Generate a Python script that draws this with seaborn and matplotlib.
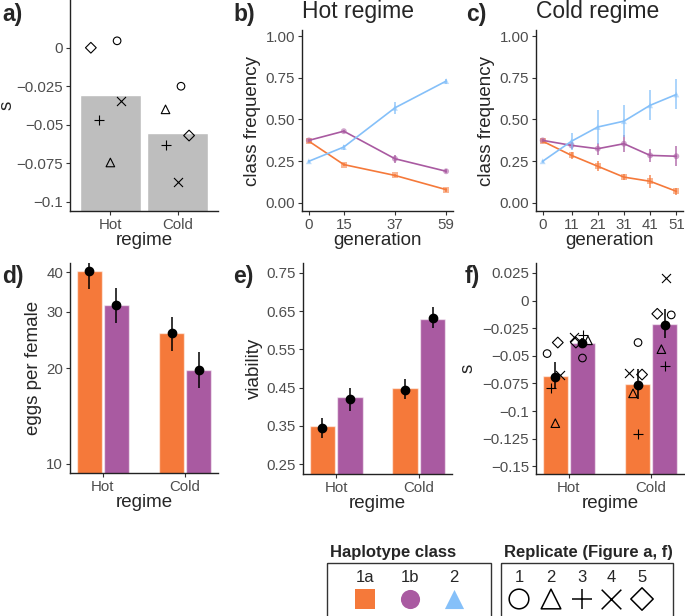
import numpy as np
import pandas as pd
import matplotlib
matplotlib.use('Agg')
import matplotlib.pyplot as plt
import seaborn as sns
from matplotlib.patches import Rectangle
from matplotlib.ticker import FixedLocator, NullLocator

# categories
regimes = ['Hot', 'Cold']
classes = ['1a', '1b', '2']
replicates = ['1', '2', '3', '4', '5']

# a) s per replicate
a_mean = [-0.0308, -0.0552]
a_hot = [0.0045, -0.0745, -0.047, -0.0347, 0.0]
a_cold = [-0.025, -0.040, -0.063, -0.087, -0.057]

# b) hot regime class frequencies
b_gen = [0, 15, 37, 59]
b_1a = [0.37, 0.23, 0.165, 0.08]
b_1a_err = [0.01, 0.01, 0.01, 0.012]
b_1b = [0.375, 0.43, 0.265, 0.19]
b_1b_err = [0.01, 0.01, 0.025, 0.012]
b_2 = [0.25, 0.335, 0.57, 0.73]
b_2_err = [0.008, 0.015, 0.035, 0.015]

# c) cold regime class frequencies
c_gen = [0, 11, 21, 31, 41, 51]
c_1a = [0.37, 0.285, 0.22, 0.155, 0.13, 0.07]
c_1a_err = [0.01, 0.02, 0.03, 0.02, 0.04, 0.02]
c_1b = [0.375, 0.345, 0.325, 0.355, 0.285, 0.28]
c_1b_err = [0.01, 0.02, 0.035, 0.05, 0.04, 0.06]
c_2 = [0.25, 0.37, 0.455, 0.49, 0.585, 0.65]
c_2_err = [0.008, 0.05, 0.1, 0.095, 0.09, 0.09]

# d-f) bars in order Hot 1a, Hot 1b, Cold 1a, Cold 1b
bar_regime = ['Hot', 'Hot', 'Cold', 'Cold']
bar_class = ['1a', '1b', '1a', '1b']

d_bar = [40.3, 31.5, 25.7, 19.7]
d_point = [40.3, 31.5, 25.7, 19.7]
d_low = [35.5, 27.7, 22.6, 17.3]
d_high = [44.0, 35.6, 28.9, 22.4]

e_bar = [0.35, 0.426, 0.45, 0.63]
e_point = [0.345, 0.42, 0.445, 0.633]
e_low = [0.318, 0.388, 0.42, 0.605]
e_high = [0.37, 0.448, 0.472, 0.661]

f_bar = [-0.068, -0.038, -0.0755, -0.0214]
f_point = [-0.069, -0.038, -0.076, -0.022]
f_low = [-0.080, -0.042, -0.089, -0.034]
f_high = [-0.056, -0.034, -0.062, -0.008]
f_hot_1a = [-0.048, -0.111, -0.079, -0.067, -0.038]
f_hot_1b = [-0.052, -0.036, -0.031, -0.033, -0.038]
f_cold_1a = [-0.038, -0.084, -0.121, -0.066, -0.067]
f_cold_1b = [-0.013, -0.044, -0.059, 0.020, -0.012]

# styling
class_colors = dict(zip(classes, ['#F5793A', '#A95AA1', '#85C0F9']))
class_markers = dict(zip(classes, ['s', 'o', '^']))
rep_markers = dict(zip(replicates, ['o', '^', '+', 'x', 'D']))
rep_sizes = dict(zip(replicates, [30, 38, 60, 42, 30]))
dodge = {'1a': -0.165, '1b': 0.165}
# horizontal jitter of the replicate symbols (in category units)
a_jit_hot = [0.10, 0.0, -0.17, 0.155, -0.29]
a_jit_cold = [0.05, -0.18, -0.18, 0.0, 0.17]
f_jit = [[-0.10, 0.0, -0.055, 0.055, 0.03],
         [0.0, 0.067, 0.006, -0.10, -0.08],
         [0.006, -0.055, 0.0, -0.10, 0.055],
         [0.08, -0.04, 0.006, 0.018, -0.09]]

sns.set_style('ticks')
plt.rcParams['font.family'] = ['Liberation Sans', 'DejaVu Sans']
plt.rcParams['axes.unicode_minus'] = True

W, H = 685, 616
fig = plt.figure(figsize=(W / 100, H / 100), dpi=100)

TICK = 10.8
LAB = 13.5
GREY = '#4d4d4d'


def px_axes(x0, y0, x1, y1):
    return fig.add_axes([x0 / W, 1 - y1 / H, (x1 - x0) / W, (y1 - y0) / H])


def style(ax, yticks, fmt):
    sns.despine(ax=ax)
    for s in ['left', 'bottom']:
        ax.spines[s].set_color('#222222')
        ax.spines[s].set_linewidth(1.0)
    ax.tick_params(labelsize=TICK, labelcolor=GREY, color='#333333',
                   length=3, width=0.8, pad=2)
    ax.yaxis.set_major_locator(FixedLocator(yticks))
    ax.yaxis.set_minor_locator(NullLocator())
    ax.set_yticklabels([fmt(v) for v in yticks])


def sfmt(v):
    return ('%g' % v).replace('-', '\u2212')


def rep_scatter(ax, xs, ys, lw=0.8):
    for r, x, y in zip(replicates, xs, ys):
        m = rep_markers[r]
        if m in ['+', 'x']:
            ax.scatter([x], [y], marker=m, s=rep_sizes[r], c='black',
                       linewidths=lw, zorder=4)
        else:
            ax.scatter([x], [y], marker=m, s=rep_sizes[r], facecolors='none',
                       edgecolors='black', linewidths=lw, zorder=4)


# ---------- a)
ax = px_axes(70, 0, 218, 211)
ax.bar(range(len(regimes)), [m + 1 for m in a_mean], bottom=-1, width=0.9,
       color='#bebebe', zorder=1)
rep_scatter(ax, [0 + j for j in a_jit_hot], a_hot)
rep_scatter(ax, [1 + j for j in a_jit_cold], a_cold)
ax.set_xlim(-0.6, 1.6)
ax.set_ylim(-0.106, 0.031)
style(ax, [0, -0.025, -0.05, -0.075, -0.1], sfmt)
ax.set_xticks(range(len(regimes)))
ax.set_xticklabels(regimes)
ax.set_xlabel('regime', fontsize=LAB, labelpad=0)
ax.set_ylabel('s', fontsize=LAB)
ax.yaxis.set_label_coords(-0.37, 0.5)


# ---------- b) and c)
def freq_panel(ax, gen, series, errs, title):
    df = pd.DataFrame({
        'generation': gen * 3,
        'freq': series[0] + series[1] + series[2],
        'err': errs[0] + errs[1] + errs[2],
        'class': sum([[c] * len(gen) for c in classes], []),
    })
    sns.lineplot(data=df, x='generation', y='freq', hue='class',
                 palette=class_colors, ax=ax, legend=False, linewidth=1.2)
    sns.scatterplot(data=df, x='generation', y='freq', hue='class',
                    style='class', markers=class_markers,
                    palette=class_colors, ax=ax, legend=False, s=18,
                    alpha=0.55, linewidth=0)
    for c in classes:
        sub = df[df['class'] == c]
        ax.errorbar(sub['generation'], sub['freq'], yerr=sub['err'],
                    fmt='none', ecolor=class_colors[c], elinewidth=1.2,
                    alpha=0.8, capsize=0)
    rng = max(gen) - min(gen)
    ax.set_xlim(min(gen) - 0.05 * rng, max(gen) + 0.05 * rng)
    ax.set_ylim(-0.048, 1.036)
    style(ax, [0, 0.25, 0.5, 0.75, 1.0], lambda v: '%.2f' % v)
    ax.set_xticks(gen)
    ax.set_xlabel('generation', fontsize=LAB, labelpad=0)
    ax.set_ylabel('class frequency', fontsize=LAB, labelpad=3)
    ax.set_title(title, fontsize=16.5, pad=8.5, loc='left')


ax = px_axes(302, 30, 453, 211)
freq_panel(ax, b_gen, [b_1a, b_1b, b_2], [b_1a_err, b_1b_err, b_2_err],
           'Hot regime')
ax = px_axes(536, 30, 683, 211)
freq_panel(ax, c_gen, [c_1a, c_1b, c_2], [c_1a_err, c_1b_err, c_2_err],
           'Cold regime')


# ---------- d), e), f)
def bar_panel(ax, bars, points, low, high, base):
    xs = [regimes.index(r) + dodge[c] for r, c in zip(bar_regime, bar_class)]
    cols = [class_colors[c] for c in bar_class]
    ax.bar(xs, [b - base for b in bars], bottom=base, width=0.31, color=cols,
           edgecolor=(1, 1, 1, 0.55), linewidth=1.0, zorder=1)
    p = np.array(points)
    yerr = [p - np.array(low), np.array(high) - p]
    ax.errorbar(xs, points, yerr=yerr, fmt='o', color='black', ms=6,
                elinewidth=1.1, capsize=0, zorder=6)
    ax.set_xlim(-0.4, 1.4)
    ax.set_xticks(range(len(regimes)))
    ax.set_xticklabels(regimes)
    ax.set_xlabel('regime', fontsize=LAB, labelpad=0)
    return xs


ax = px_axes(70, 263, 218, 473)
ax.set_yscale('log')
bar_panel(ax, d_bar, d_point, d_low, d_high, 1.0)
ax.set_ylim(9.37, 42.7)
style(ax, [10, 20, 30, 40], lambda v: '%d' % v)
ax.set_ylabel('eggs per female', fontsize=LAB, labelpad=3)

ax = px_axes(303, 263, 452, 474)
bar_panel(ax, e_bar, e_point, e_low, e_high, 0.0)
ax.set_ylim(0.224, 0.776)
style(ax, [0.25, 0.35, 0.45, 0.55, 0.65, 0.75], lambda v: '%.2f' % v)
ax.set_ylabel('viability', fontsize=LAB, labelpad=3)

ax = px_axes(536, 263, 684, 474)
xs = bar_panel(ax, f_bar, f_point, f_low, f_high, -1.0)
for x0, ys, jit in zip(xs, [f_hot_1a, f_hot_1b, f_cold_1a, f_cold_1b], f_jit):
    rep_scatter(ax, [x0 + j for j in jit], ys)
ax.set_ylim(-0.157, 0.034)
style(ax, [0.025, 0, -0.025, -0.05, -0.075, -0.1, -0.125, -0.15], sfmt)
ax.set_ylabel('s', fontsize=LAB)
ax.yaxis.set_label_coords(-0.40, 0.5)

# panel letters
for lab, x, y in [('a)', 2, 15), ('b)', 233, 15), ('c)', 466, 15),
                  ('d)', 2, 276), ('e)', 233, 276), ('f)', 465, 276)]:
    fig.text(x / W, 1 - y / H, lab, fontsize=16.5, fontweight='bold',
             va='center', ha='left')

# ---------- legends (drawn in a figure-wide overlay)
lg = fig.add_axes([0, 0, 1, 1])
lg.set_xlim(0, W)
lg.set_ylim(H, 0)
lg.axis('off')
lg.add_patch(Rectangle((327, 563), 164, 60, fill=False, ec='#333333', lw=1.0))
lg.add_patch(Rectangle((501, 563), 172, 60, fill=False, ec='#333333', lw=1.0))
lg.text(330, 552, 'Haplotype class', fontsize=12, fontweight='bold',
        va='center', ha='left')
lg.text(504, 552, 'Replicate (Figure a, f)', fontsize=12, fontweight='bold',
        va='center', ha='left')
for c, x in zip(classes, [365, 410, 454]):
    lg.text(x, 577, c, fontsize=12, ha='center', va='center')
    lg.scatter([x], [599], marker=class_markers[c], s=190,
               color=class_colors[c], linewidths=0)
for r, x in zip(replicates, [519, 551, 582, 611, 642]):
    lg.text(x, 577, r, fontsize=12, ha='center', va='center')
    m = rep_markers[r]
    if m in ['+', 'x']:
        lg.scatter([x], [599], marker=m, s=200, c='black', linewidths=1.1)
    else:
        lg.scatter([x], [599], marker=m, s=200 if m != 'D' else 130,
                   facecolors='none', edgecolors='black', linewidths=1.1)

fig.savefig('out.png', dpi=100)
